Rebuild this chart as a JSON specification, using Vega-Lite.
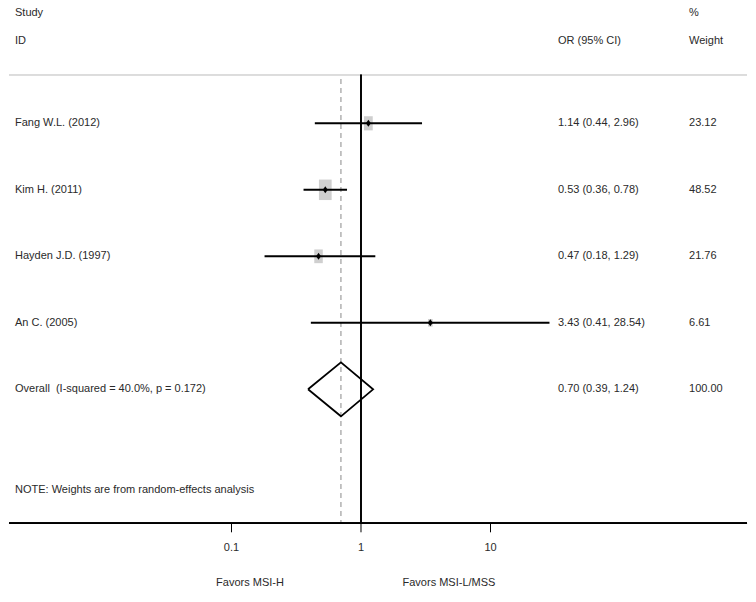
{
  "$schema": "https://vega.github.io/schema/vega-lite/v6.json",
  "width": 756,
  "height": 602,
  "padding": 0,
  "autosize": "none",
  "background": "white",
  "config": {
    "view": {"stroke": null},
    "text": {"font": "Liberation Sans, Arial, sans-serif", "fontSize": 11, "color": "#2a2a2a", "baseline": "middle"}
  },
  "datasets": {
    "rows": [
      {"study": "Fang W.L. (2012)", "or": 1.14, "lo": 0.44, "hi": 2.96, "weight": 23.12, "row": 1, "orci": "1.14 (0.44, 2.96)", "wt": "23.12", "kind": "study"},
      {"study": "Kim H. (2011)", "or": 0.53, "lo": 0.36, "hi": 0.78, "weight": 48.52, "row": 2, "orci": "0.53 (0.36, 0.78)", "wt": "48.52", "kind": "study"},
      {"study": "Hayden J.D. (1997)", "or": 0.47, "lo": 0.18, "hi": 1.29, "weight": 21.76, "row": 3, "orci": "0.47 (0.18, 1.29)", "wt": "21.76", "kind": "study"},
      {"study": "An C. (2005)", "or": 3.43, "lo": 0.41, "hi": 28.54, "weight": 6.61, "row": 4, "orci": "3.43 (0.41, 28.54)", "wt": "6.61", "kind": "study"},
      {"study": "Overall\u00a0\u00a0(I-squared = 40.0%, p = 0.172)", "or": 0.70, "lo": 0.39, "hi": 1.24, "weight": 100.00, "row": 5, "orci": "0.70 (0.39, 1.24)", "wt": "100.00", "kind": "overall"}
    ],
    "diamond": [
      {"k": 1, "x": 0.39, "y": 5},
      {"k": 2, "x": 0.70, "y": 4.594},
      {"k": 3, "x": 1.24, "y": 5},
      {"k": 4, "x": 0.70, "y": 5.406},
      {"k": 5, "x": 0.39, "y": 5}
    ],
    "ticks": [
      {"v": 0.1, "label": "0.1"},
      {"v": 1, "label": "1"},
      {"v": 10, "label": "10"}
    ]
  },
  "data": {"name": "rows"},
  "layer": [
    {
      "mark": {"type": "rule", "color": "#dcdcdc", "strokeWidth": 1.5},
      "encoding": {
        "x": {"datum": 0.001914, "type": "quantitative", "scale": {"type": "log", "domain": [0.001631, 1122.3], "nice": false}, "axis": null},
        "x2": {"datum": 956.6},
        "y": {"datum": 0.269, "type": "quantitative", "scale": {"domain": [-0.854, 8.198], "reverse": true, "nice": false, "zero": false}, "axis": null}
      }
    },
    {
      "mark": {"type": "rule", "color": "#000000", "strokeWidth": 1},
      "encoding": {
        "x": {"datum": 1, "type": "quantitative"},
        "y": {"datum": 0.269, "type": "quantitative"},
        "y2": {"datum": 7.015}
      }
    },
    {
      "transform": [{"filter": "datum.kind === 'overall'"}],
      "mark": {"type": "rule", "color": "#8a8a8a", "strokeWidth": 1, "strokeDash": [5, 4]},
      "encoding": {
        "x": {"field": "or", "type": "quantitative"},
        "y": {"datum": 0.334, "type": "quantitative"},
        "y2": {"datum": 7.015}
      }
    },
    {
      "mark": {"type": "rule", "color": "#000000", "strokeWidth": 1.5},
      "encoding": {
        "x": {"datum": 0.001914, "type": "quantitative"},
        "x2": {"datum": 956.6},
        "y": {"datum": 7.015, "type": "quantitative"}
      }
    },
    {
      "data": {"name": "ticks"},
      "mark": {"type": "rule", "color": "#000000", "strokeWidth": 1},
      "encoding": {
        "x": {"field": "v", "type": "quantitative"},
        "y": {"datum": 7.015, "type": "quantitative"},
        "y2": {"datum": 7.15}
      }
    },
    {
      "data": {"name": "ticks"},
      "mark": {"type": "text", "align": "center"},
      "encoding": {
        "x": {"field": "v", "type": "quantitative"},
        "y": {"datum": 7.386, "type": "quantitative"},
        "text": {"field": "label"}
      }
    },
    {
      "transform": [{"filter": "datum.kind === 'study'"}],
      "mark": {"type": "point", "filled": true, "color": "#cfcfcf", "opacity": 1, "shape": "M-0.62,-1H0.62V1H-0.62Z"},
      "encoding": {
        "x": {"field": "or", "type": "quantitative"},
        "y": {"field": "row", "type": "quantitative"},
        "size": {"field": "weight", "type": "quantitative", "scale": {"type": "linear", "domain": [0, 48.52], "range": [0, 420], "zero": true}, "legend": null}
      }
    },
    {
      "transform": [{"filter": "datum.kind === 'study'"}],
      "mark": {"type": "rule", "color": "#000000", "strokeWidth": 2},
      "encoding": {
        "x": {"field": "lo", "type": "quantitative"},
        "x2": {"field": "hi"},
        "y": {"field": "row", "type": "quantitative"}
      }
    },
    {
      "transform": [{"filter": "datum.kind === 'study'"}],
      "mark": {"type": "point", "filled": true, "color": "#000000", "opacity": 1, "shape": "M0,-1L0.7,0L0,1L-0.7,0Z", "size": 50},
      "encoding": {
        "x": {"field": "or", "type": "quantitative"},
        "y": {"field": "row", "type": "quantitative"}
      }
    },
    {
      "data": {"name": "diamond"},
      "mark": {"type": "line", "color": "#000000", "strokeWidth": 1.8, "strokeJoin": "miter"},
      "encoding": {
        "x": {"field": "x", "type": "quantitative"},
        "y": {"field": "y", "type": "quantitative"},
        "order": {"field": "k", "type": "quantitative"}
      }
    },
    {
      "mark": {"type": "text", "align": "left"},
      "encoding": {
        "x": {"datum": 0.002129, "type": "quantitative"},
        "y": {"field": "row", "type": "quantitative"},
        "text": {"field": "study"}
      }
    },
    {
      "mark": {"type": "text", "align": "left"},
      "encoding": {
        "x": {"datum": 33.2, "type": "quantitative"},
        "y": {"field": "row", "type": "quantitative"},
        "text": {"field": "orci"}
      }
    },
    {
      "mark": {"type": "text", "align": "left"},
      "encoding": {
        "x": {"datum": 341.1, "type": "quantitative"},
        "y": {"field": "row", "type": "quantitative"},
        "text": {"field": "wt"}
      }
    },
    {
      "data": {"values": [{}]},
      "mark": {"type": "text", "align": "left", "text": "Study"},
      "encoding": {"x": {"datum": 0.002129, "type": "quantitative"}, "y": {"datum": -0.659, "type": "quantitative"}}
    },
    {
      "data": {"values": [{}]},
      "mark": {"type": "text", "align": "left", "text": "ID"},
      "encoding": {"x": {"datum": 0.002129, "type": "quantitative"}, "y": {"datum": -0.238, "type": "quantitative"}}
    },
    {
      "data": {"values": [{}]},
      "mark": {"type": "text", "align": "left", "text": "OR (95% CI)"},
      "encoding": {"x": {"datum": 33.2, "type": "quantitative"}, "y": {"datum": -0.238, "type": "quantitative"}}
    },
    {
      "data": {"values": [{}]},
      "mark": {"type": "text", "align": "left", "text": "%"},
      "encoding": {"x": {"datum": 341.1, "type": "quantitative"}, "y": {"datum": -0.659, "type": "quantitative"}}
    },
    {
      "data": {"values": [{}]},
      "mark": {"type": "text", "align": "left", "text": "Weight"},
      "encoding": {"x": {"datum": 341.1, "type": "quantitative"}, "y": {"datum": -0.238, "type": "quantitative"}}
    },
    {
      "data": {"values": [{}]},
      "mark": {"type": "text", "align": "left", "text": "NOTE: Weights are from random-effects analysis"},
      "encoding": {"x": {"datum": 0.002129, "type": "quantitative"}, "y": {"datum": 6.514, "type": "quantitative"}}
    },
    {
      "data": {"values": [{}]},
      "mark": {"type": "text", "align": "center", "text": "Favors MSI-H"},
      "encoding": {"x": {"datum": 0.139, "type": "quantitative"}, "y": {"datum": 7.913, "type": "quantitative"}}
    },
    {
      "data": {"values": [{}]},
      "mark": {"type": "text", "align": "center", "text": "Favors MSI-L/MSS"},
      "encoding": {"x": {"datum": 4.78, "type": "quantitative"}, "y": {"datum": 7.913, "type": "quantitative"}}
    }
  ]
}
